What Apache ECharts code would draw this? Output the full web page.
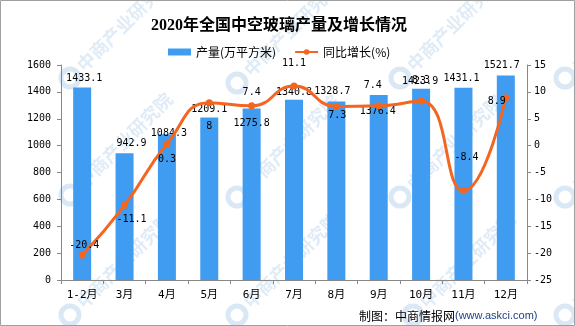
<!DOCTYPE html>
<html><head><meta charset="utf-8">
<script src="https://cdn.jsdelivr.net/npm/echarts@6/dist/echarts.min.js"></script>
<style>html,body{margin:0;padding:0;background:#fff}#c{width:575px;height:326px}</style>
</head><body><div id="c"></div>
<script>
var categories = ['1-2月','3月','4月','5月','6月','7月','8月','9月','10月','11月','12月'];
var output = [1433.1, 942.9, 1084.3, 1209.1, 1275.8, 1340.8, 1328.7, 1376.4, 1423.9, 1431.1, 1521.7];
var growth = [-20.4, -11.1, 0.3, 8, 7.4, 11.1, 7.3, 7.4, 8.3, -8.4, 8.9];
var leftTicks = [0, 1600, 200];
var rightTicks = [-25, 15, 5];

// label nudges (style only)
var barLabelOffsets = [[2,1],[7,0],[2,9],[0,2],[0,25],[0,3],[-4,0],[-1,26],[-1,3],[-2,1],[-4,0]];
var lineLabelOffsets = [[2,4],[7,28],[0,29],[0,37],[0,0],[0,-9],[1,23],[-6,-7],[0,-7],[3,-20],[-9,17]];

var numFont = "'DejaVu Sans Mono','Noto Sans CJK SC',monospace";
var cjkFont = "'Noto Sans CJK SC',sans-serif";
var axisGray = '#888888';

var chart = echarts.init(document.getElementById('c'), null, {renderer:'canvas'});

var wm = [];
var wmPos = [[70,78],[237,83],[400,78],[565,78],[70,195],[237,197],[400,197],[565,197],[70,315],[237,315],[413,315],[565,315]];
wmPos.forEach(function(p){
  wm.push({type:'circle', shape:{cx:p[0], cy:p[1], r:9}, style:{fill:'none', stroke:'rgba(150,190,225,0.35)', lineWidth:5}, silent:true, z:-1});
  wm.push({type:'text', x:p[0]+10, y:p[1]-10, rotation:Math.PI/4, silent:true, z:-1,
    style:{text:'中商产业研究院', fill:'rgba(150,190,225,0.3)', font:'bold 18px ' + cjkFont, textVerticalAlign:'middle', textAlign:'left'}});
});

var option = {
  backgroundColor:'#fff',
  animation:false,
  title:{text:'2020年全国中空玻璃产量及增长情况', left:146, top:13,
    textStyle:{fontSize:16, fontWeight:'bold', color:'#000', fontFamily:"'Liberation Serif','Noto Sans CJK SC',serif"}},
  legend:{left:163, top:41, itemWidth:23, itemHeight:7, itemGap:18,
    textStyle:{fontSize:12, color:'#000', fontFamily:cjkFont},
    data:[{name:'产量(万平方米)', icon:'rect'}, {name:'同比增长(%)'}]},
  grid:{left:61, right:48, top:65, bottom:46, containLabel:false},
  xAxis:{type:'category', data:categories, boundaryGap:true,
    axisLine:{lineStyle:{color:axisGray}},
    axisTick:{show:true, length:4, lineStyle:{color:axisGray}},
    axisLabel:{color:'#000', fontSize:11, fontFamily:numFont, margin:10, interval:0}},
  yAxis:[
    {type:'value', min:leftTicks[0], max:leftTicks[1], interval:leftTicks[2],
      axisLine:{show:true, lineStyle:{color:axisGray}},
      axisTick:{show:true, length:4, lineStyle:{color:axisGray}},
      splitLine:{show:false},
      axisLabel:{color:'#000', fontSize:10, fontFamily:numFont, margin:10, formatter:function(v){return String(v);}}},
    {type:'value', min:rightTicks[0], max:rightTicks[1], interval:rightTicks[2], position:'right',
      axisLine:{show:true, lineStyle:{color:axisGray}},
      axisTick:{show:true, length:4, lineStyle:{color:axisGray}},
      splitLine:{show:false},
      axisLabel:{color:'#000', fontSize:10, fontFamily:numFont, margin:7, formatter:function(v){return String(v);}}}
  ],
  series:[
    {name:'产量(万平方米)', type:'bar', yAxisIndex:0, barWidth:18,
      itemStyle:{color:'#3F9CF0'},
      label:{show:true, position:'top', color:'#000', fontSize:10, fontFamily:numFont},
      data:output.map(function(v,i){return {value:v, label:{offset:barLabelOffsets[i]}};}),
      z:2},
    {name:'同比增长(%)', type:'line', yAxisIndex:1, smooth:0.5,
      symbol:'circle', symbolSize:7,
      lineStyle:{color:'#F4661F', width:3},
      itemStyle:{color:'#F4661F'},
      label:{show:true, position:'top', color:'#000', fontSize:10, fontFamily:numFont},
      data:growth.map(function(v,i){return {value:v, label:{offset:lineLabelOffsets[i]}};}),
      z:3}
  ],
  graphic:[
    {type:'group', z:-1, silent:true, children:wm},
    {type:'rect', shape:{x:0.5, y:0.5, width:574, height:325}, style:{fill:'none', stroke:'#a0a0a0', lineWidth:1}, silent:true, z:10},
    {type:'text', x:359, y:316, silent:true, z:10,
      style:{text:'{a|制图：中商情报网}{b|(www.askci.com)}', textVerticalAlign:'middle',
        rich:{a:{fontSize:12, fill:'#000', fontFamily:cjkFont}, b:{fontSize:11, fill:'#1F3F7F', fontFamily:"'Liberation Sans',sans-serif"}}}}
  ]
};
chart.setOption(option);
</script></body></html>
